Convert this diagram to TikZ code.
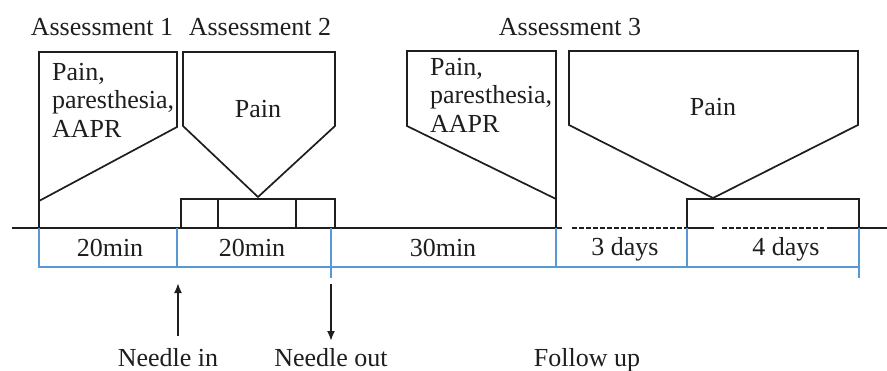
\documentclass[tikz,border=0pt]{standalone}
\usepackage{fontspec}
\setmainfont{Liberation Serif}
\usetikzlibrary{arrows.meta}
\definecolor{ink}{RGB}{30,30,30}
\definecolor{tblue}{RGB}{88,152,212}
\begin{document}
\begin{tikzpicture}[x=1pt,y=-1pt,
  line/.style={draw=ink,line width=1.7pt},
  bline/.style={draw=tblue,line width=1.3pt},
  txt/.style={text=ink,inner sep=0pt,font=\fontsize{26}{28.5}\selectfont},
  dsh/.style={line,dash pattern=on 4.5pt off 2.5pt},
  arr/.style={draw=ink,line width=1.9pt,-{Latex[length=10pt,width=8pt]}}]
\useasboundingbox[fill=white] (0,0) rectangle (887,370);
% headings
\node[txt,anchor=base] (a1) at (102,35) {Assessment 1};
\node[txt,anchor=base] (a2) at (260,35) {Assessment 2};
\node[txt,anchor=base] (a3) at (570,35) {Assessment 3};
% timeline
\draw[line] (12,228) -- (562,228);
\draw[dsh] (572,228) -- (686,228);
\draw[line] (686,228) -- (714,228);
\draw[dsh] (722,228) -- (824,228);
\draw[line] (827,228) -- (887,228);
% box 1
\draw[line,line join=miter] (39,228) -- (39,52) -- (177,52) -- (177,127) -- (39,201);
\node[txt,anchor=north west,align=left] (t1) at (52,63) {Pain,\\paresthesia,\\AAPR};
% box 2
\draw[line] (183,52) -- (335,52) -- (335,126) -- (258,197) -- (183,126) -- cycle;
\node[txt,anchor=base] (t2) at (258,117) {Pain};
\draw[line] (181,228) -- (181,199) -- (335,199) -- (335,228);
\draw[line] (218,199) -- (218,228);
\draw[line] (296,199) -- (296,228);
% box 3
\draw[line] (556,228) -- (556,51) -- (407,51) -- (407,126) -- (556,199);
\node[txt,anchor=north west,align=left] (t3) at (430,58) {Pain,\\paresthesia,\\AAPR};
% box 4
\draw[line] (569,51) -- (858,51) -- (858,125) -- (713,198) -- (569,125) -- cycle;
\node[txt,anchor=base] (t4) at (713,115) {Pain};
\draw[line] (687,228) -- (687,199) -- (859,199) -- (859,228);
% blue brackets
\draw[bline] (39,228) -- (39,267) -- (859,267);
\foreach \xx in {177,556,687} \draw[bline] (\xx,228) -- (\xx,267);
\draw[bline] (331,228) -- (331,278);
\draw[bline] (859,228) -- (859,278);
% durations
\node[txt,anchor=base] (d1) at (110,256) {20min};
\node[txt,anchor=base] (d2) at (252,256) {20min};
\node[txt,anchor=base] (d3) at (443,256) {30min};
\node[txt,anchor=base] (d4) at (625,255) {3 days};
\node[txt,anchor=base] (d5) at (786,255) {4 days};
% bottom labels
\node[txt,anchor=base] (nin) at (168,366) {Needle in};
\node[txt,anchor=base] (nout) at (331,366) {Needle out};
\node[txt,anchor=base] (fu) at (587,366) {Follow up};
\coordinate (ninA) at (178,336);
\coordinate (ninB) at (178,283);
\coordinate (noutA) at (331,284);
\coordinate (noutB) at (331,341);
\draw[arr] (ninA) -- (ninB);
\draw[arr] (noutA) -- (noutB);
\end{tikzpicture}
\end{document}
